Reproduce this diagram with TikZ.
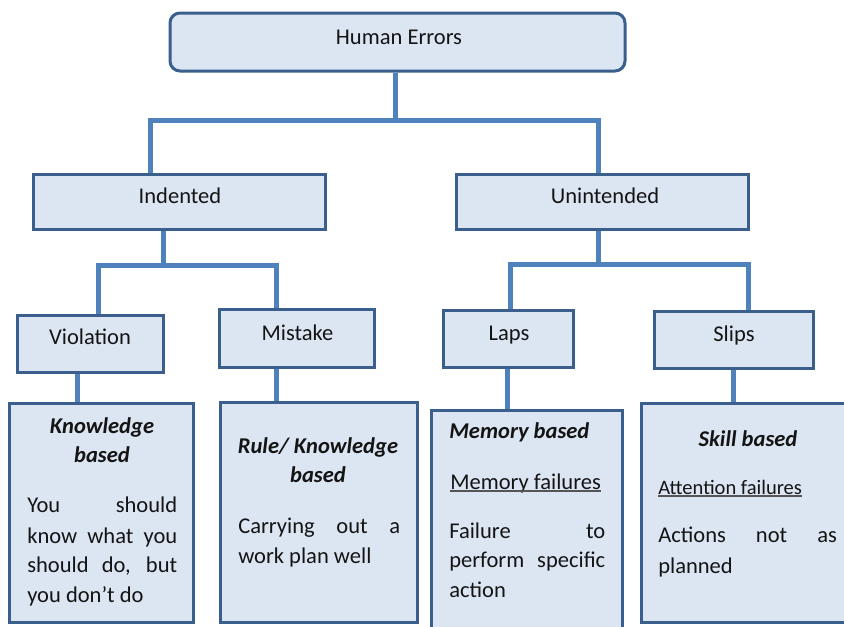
\documentclass[tikz,border=0pt]{standalone}
\usepackage{fontspec}
\setmainfont{Carlito}
\usetikzlibrary{backgrounds}
\definecolor{boxfill}{HTML}{DCE6F2}
\definecolor{boxborder}{HTML}{3A5F8C}
\definecolor{connblue}{HTML}{4F81BD}
\definecolor{ulgray}{HTML}{555555}
\newcommand{\just}[2]{\makebox[#1][s]{#2}}
\tikzset{
  errbox/.style={draw=boxborder, line width=2.25pt, fill=boxfill, inner sep=0pt},
  conn/.style={draw=connblue, line width=3.75pt, line join=miter},
  lbl/.style={inner sep=0pt, font=\fontsize{16.9}{20}\selectfont, text=black!92},
  hdr/.style={lbl, font=\fontsize{16.9}{20}\selectfont\bfseries\itshape},
  small/.style={inner sep=0pt, font=\fontsize{15.4}{18}\selectfont, text=black!92},
  uline/.style={draw=ulgray, line width=1.1pt},
}
\begin{document}
\begin{tikzpicture}[x=0.75pt, y=-0.75pt]
\useasboundingbox (0,0) rectangle (844,626);
\clip (0,0) rectangle (844,626);

% boxes
\node[errbox, rounded corners=7.5pt, minimum width=341.25pt, minimum height=43.5pt] (top) at (397.5,42) {};
\node[errbox, minimum width=219pt, minimum height=41.25pt] (ind) at (179,201.5) {};
\node[errbox, minimum width=219pt, minimum height=41.25pt] (unint) at (602,201.5) {};
\node[errbox, minimum width=109.5pt, minimum height=42.75pt] (viol) at (90,343.5) {};
\node[errbox, minimum width=116.25pt, minimum height=43.5pt] (mist) at (296.5,338) {};
\node[errbox, minimum width=97.5pt, minimum height=42.75pt] (laps) at (508,338.5) {};
\node[errbox, minimum width=119.25pt, minimum height=42.75pt] (slips) at (733.5,339.5) {};
\node[errbox, minimum width=138pt, minimum height=164.25pt] (kb) at (101,512.5) {};
\node[errbox, minimum width=147.75pt, minimum height=165pt] (rk) at (318.5,512) {};
\node[errbox, minimum width=143.25pt, minimum height=172.5pt] (mem) at (526.5,525) {};
\node[errbox, minimum width=164.25pt, minimum height=164.25pt] (skill) at (750.5,512.5) {};

% connectors
\coordinate (j0) at (395,120);
\coordinate (ja) at (150,120);
\coordinate (jb) at (598,120);
\coordinate (k0) at (163,265);
\coordinate (ka) at (98,265);
\coordinate (kb2) at (276,265);
\coordinate (m0) at (598,264);
\coordinate (ma) at (510,264);
\coordinate (mb) at (748,264);
\coordinate (v1) at (77,0);
\coordinate (v2) at (276,0);
\coordinate (v3) at (507,0);
\coordinate (v4) at (733,0);
\begin{scope}[on background layer]
\draw[conn] (top.south -| j0) -- (j0);
\draw[conn] (ind.north -| ja) -- (ja) -- (jb) -- (unint.north -| jb);
\draw[conn] (ind.south -| k0) -- (k0);
\draw[conn] (viol.north -| ka) -- (ka) -- (kb2) -- (mist.north -| kb2);
\draw[conn] (unint.south -| m0) -- (m0);
\draw[conn] (laps.north -| ma) -- (ma) -- (mb) -- (slips.north -| mb);
\draw[conn] (viol.south -| v1) -- (kb.north -| v1);
\draw[conn] (mist.south -| v2) -- (rk.north -| v2);
\draw[conn] (laps.south -| v3) -- (mem.north -| v3);
\draw[conn] (slips.south -| v4) -- (skill.north -| v4);
\end{scope}

% labels
\node[lbl, anchor=base] (topt) at (399,44) {Human Errors};
\node[lbl, anchor=base] (indt) at (180,203) {Indented};
\node[lbl, anchor=base] (unintt) at (605,203) {Unintended};
\node[lbl, anchor=base] (violt) at (90,344) {Violation};
\node[lbl, anchor=base] (mistt) at (297.5,340) {Mistake};
\node[lbl, anchor=base] (lapst) at (509,340) {Laps};
\node[lbl, anchor=base] (slipst) at (734,341.5) {Slips};

% Knowledge based
\node[hdr, anchor=base] (kbh1) at (102,433) {Knowledge};
\node[hdr, anchor=base] (kbh2) at (102,462) {based};
\node[lbl, anchor=base west] (kbl1) at (27,512) {\just{112.5pt}{You should}};
\node[lbl, anchor=base west] (kbl2) at (27,543) {\just{112.5pt}{know what you}};
\node[lbl, anchor=base west] (kbl3) at (27,572) {\just{112.5pt}{should do, but}};
\node[lbl, anchor=base west] (kbl4) at (27,602) {you don\symbol{39}t do};

% Rule / Knowledge based
\node[hdr, anchor=base] (rkh1) at (318,453) {Rule/ Knowledge};
\node[hdr, anchor=base] (rkh2) at (318,482) {based};
\node[lbl, anchor=base west] (rkl1) at (238,533) {\just{121.5pt}{Carrying out a}};
\node[lbl, anchor=base west] (rkl2) at (238,563) {work plan well};

% Memory based
\node[hdr, anchor=base west] (memh) at (449,438) {Memory based};
\node[lbl, anchor=base west] (memu) at (450,489) {Memory failures};
\draw[uline] ([yshift=-1.6pt]memu.base west) -- ([yshift=-1.6pt]memu.base east);
\node[lbl, anchor=base west] (meml1) at (449,538) {\just{117pt}{Failure to}};
\node[lbl, anchor=base west] (meml2) at (449,567) {\just{117pt}{perform specific}};
\node[lbl, anchor=base west] (meml3) at (449,597) {action};

% Skill based
\node[hdr, anchor=base] (skh) at (748,446) {Skill based};
\node[small, anchor=base west] (sku) at (658,494) {Attention failures};
\draw[uline] ([yshift=-1.6pt]sku.base west) -- ([yshift=-1.6pt]sku.base east);
\node[lbl, anchor=base west] (skl1) at (658,542) {\just{134pt}{Actions not as}};
\node[lbl, anchor=base west] (skl2) at (658,573) {planned};
\end{tikzpicture}
\end{document}
